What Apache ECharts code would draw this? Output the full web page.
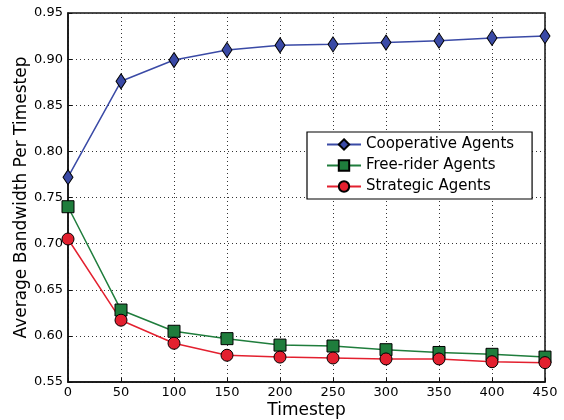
<!DOCTYPE html>
<html><head><meta charset="utf-8">
<script src="https://cdn.jsdelivr.net/npm/echarts@6/dist/echarts.min.js"></script>
<style>html,body{margin:0;padding:0;background:#fff}#c{width:564px;height:420px}</style>
</head><body><div id="c"></div>
<script>
const timesteps = [0, 50, 100, 150, 200, 250, 300, 350, 400, 450];
const cooperative = [0.772, 0.876, 0.899, 0.910, 0.915, 0.916, 0.918, 0.920, 0.923, 0.925];
const freeRider = [0.740, 0.628, 0.605, 0.597, 0.590, 0.589, 0.585, 0.582, 0.580, 0.577];
const strategic = [0.705, 0.617, 0.592, 0.579, 0.577, 0.576, 0.575, 0.575, 0.572, 0.571];
const seriesNames = ['Cooperative Agents', 'Free-rider Agents', 'Strategic Agents'];

const FONT = 'DejaVu Sans';
const chart = echarts.init(document.getElementById('c'), null, {renderer: 'canvas'});
function pairs(vals){ return timesteps.map((t,i)=>[t, vals[i]]); }
function mkSeries(name, vals, color, symbol, size){
  return {
    name, type: 'line', data: pairs(vals), symbol, symbolSize: size,
    showAllSymbol: true, clip: false,
    lineStyle: {color, width: 1.5},
    itemStyle: {color, borderColor: '#000', borderWidth: 1},
    emphasis: {disabled: true}, animation: false
  };
}
chart.setOption({
  animation: false,
  textStyle: {fontFamily: FONT},
  grid: {left: 68, right: 19, top: 13, bottom: 38, containLabel: false, outerBoundsMode: 'none',
         show: true, borderColor: '#111', borderWidth: 1.5, backgroundColor: 'transparent'},
  legend: {
    orient: 'vertical', left: 307, top: 132,
    padding: [5, 18, 5, 19], itemGap: 6, itemWidth: 34, itemHeight: 13,
    backgroundColor: '#fff', borderColor: '#000', borderWidth: 1.2,
    textStyle: {fontFamily: FONT, fontSize: 15, color: '#000'},
    data: seriesNames
  },
  xAxis: {
    type: 'value', min: 0, max: 450, interval: 50,
    name: 'Timestep', nameLocation: 'middle', nameGap: 20, nameMoveOverlap: false,
    nameTextStyle: {fontFamily: FONT, fontSize: 17, color: '#000'},
    axisLine: {show: true, lineStyle: {color: '#111', width: 1.5}},
    axisTick: {show: true, inside: true, length: 4, lineStyle: {color: '#111'}},
    axisLabel: {fontFamily: FONT, fontSize: 13, color: '#000', margin: 4},
    splitLine: {show: true, lineStyle: {color: '#333', type: [1, 3], width: 1}}
  },
  yAxis: {
    type: 'value', min: 0.55, max: 0.95, interval: 0.05,
    name: 'Average Bandwidth Per Timestep', nameLocation: 'middle', nameGap: 38, nameMoveOverlap: false,
    nameTextStyle: {fontFamily: FONT, fontSize: 17, color: '#000'},
    axisLine: {show: true, lineStyle: {color: '#111', width: 1.5}},
    axisTick: {show: true, inside: true, length: 4, lineStyle: {color: '#111'}},
    axisLabel: {fontFamily: FONT, fontSize: 13, color: '#000', margin: 5, formatter: v => v.toFixed(2)},
    splitLine: {show: true, lineStyle: {color: '#333', type: [1, 3], width: 1}}
  },
  series: [
    mkSeries(seriesNames[0], cooperative, '#3a4aa6', 'diamond', [10, 15]),
    mkSeries(seriesNames[1], freeRider, '#1f7d3c', 'rect', 12),
    mkSeries(seriesNames[2], strategic, '#e3202f', 'circle', 12)
  ]
});
</script></body></html>
